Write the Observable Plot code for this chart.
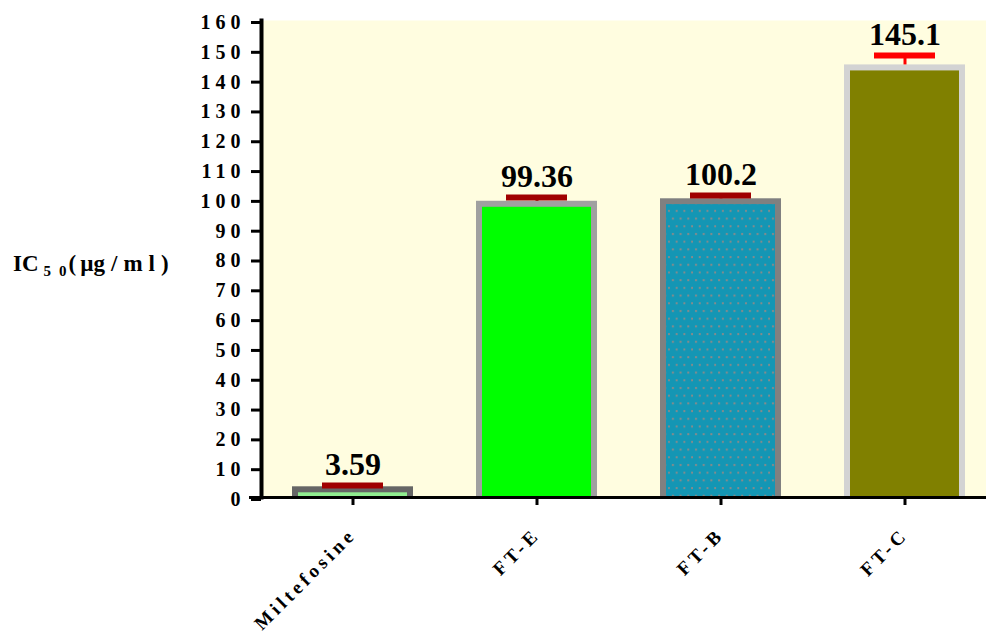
<!DOCTYPE html>
<html><head><meta charset="utf-8">
<script src="https://cdn.jsdelivr.net/npm/d3@7"></script>
<script src="https://cdn.jsdelivr.net/npm/@observablehq/plot@0.6"></script>
<style>
body{margin:0;background:#fff;}
#chart svg{font-family:"Liberation Serif","Times New Roman",serif;}
#chart g[aria-label="y-axis tick label"] text{letter-spacing:5px;}
#chart g[aria-label="x-axis tick label"] text{letter-spacing:4px;}
</style></head><body><div id="chart"></div>
<script>
const categories = ["Miltefosine", "FT-E", "FT-B", "FT-C"];
const tickLabels = ["Miltefosine", "FT-E", "FT-B", "FT-C"];
const values = [3.59, 99.36, 100.2, 145.1];
const errors = [0.45, 1.3, 1.1, 3.2];
const valueLabels = ["3.59", "99.36", "100.2", "145.1"];
const fillColors = ["#90ee90", "#00ff00", "#1496b4", "#808000"];
const strokeColors = ["#666666", "#a0a0a0", "#808080", "#d3d3d3"];
const errorColors = ["#a00000", "#a00000", "#a00000", "#ff0000"];
const patterned = [false, false, true, false];
const yTicks = [0, 10, 20, 30, 40, 50, 60, 70, 80, 90, 100, 110, 120, 130, 140, 150, 160];

const data = categories.map((c, i) => ({
  cat: c, value: values[i], err: errors[i], label: valueLabels[i],
  fill: fillColors[i], stroke: strokeColors[i], ecolor: errorColors[i], pat: patterned[i]
}));

const defsMark = () => {
  const defs = d3.create("svg:defs");
  const p = defs.append("pattern").attr("id", "dots").attr("patternUnits", "userSpaceOnUse")
    .attr("width", 7.7).attr("height", 15.4);
  p.append("rect").attr("width", 7.7).attr("height", 15.4).attr("fill", "#1496b4");
  p.append("rect").attr("x", 2).attr("y", 2).attr("width", 2).attr("height", 2).attr("fill", "#8a8a8a");
  p.append("rect").attr("x", 5.85).attr("y", 9.7).attr("width", 2).attr("height", 2).attr("fill", "#8a8a8a");
  return defs.node();
};

const chart = Plot.plot({
  width: 986, height: 633,
  marginLeft: 261, marginRight: 0, marginTop: 20, marginBottom: 136,
  style: {fontFamily: "Liberation Serif, Times New Roman, serif", background: "white", overflow: "visible", color: "black"},
  x: {domain: categories, paddingInner: 0.34, paddingOuter: 0.132, align: 0.6, label: null},
  y: {domain: [0, 160], label: null},
  marks: [
    defsMark,
    Plot.frame({fill: "#fffde0", stroke: null}),
    Plot.barY(data, {x: "cat", y: "value", fill: d => d.fill, stroke: d => d.stroke, strokeWidth: 6, insetTop: 3, insetLeft: 3, insetRight: 3, insetBottom: -4, clip: true}),
    Plot.barY(data.filter(d => d.pat), {x: "cat", y: "value", fill: "url(#dots)", insetLeft: 6, insetRight: 6, insetTop: 6}),
    Plot.ruleX(data, {x: "cat", y1: "value", y2: d => d.value + d.err, stroke: d => d.ecolor, strokeWidth: 3}),
    Plot.tickY(data, {x: "cat", y: d => d.value + d.err, stroke: d => d.ecolor, strokeWidth: 6, insetLeft: 30, insetRight: 30}),
    Plot.text(data, {x: "cat", y: d => d.value + d.err, text: "label", dy: -10, lineAnchor: "bottom", fontSize: 32, fontWeight: "bold", fill: "black"}),
    Plot.ruleY([0], {stroke: "black", strokeWidth: 3, insetLeft: -12}),
    Plot.frame({anchor: "left", stroke: "black", strokeWidth: 4}),
    Plot.axisY({ticks: yTicks, tickSize: 10, strokeWidth: 3, tickPadding: 6, fontSize: 20, fontWeight: "bold", label: null, tickFormat: d => String(d), dy: 2}),
    Plot.axisX({tickSize: 8, strokeWidth: 3, tickRotate: -45, tickPadding: 26, fontSize: 19, fontWeight: "bold", label: null, tickFormat: d => tickLabels[categories.indexOf(d)]})
  ]
});

document.getElementById("chart").appendChild(chart);

const svg = d3.select(chart);
const yPos = chart.scale("y").apply(78);
const t = svg.append("text").attr("x", 13).attr("y", yPos + 7)
  .attr("text-anchor", "start")
  .attr("font-weight", "bold").attr("font-size", 23).attr("fill", "black")
  .attr("font-family", "Liberation Serif, Times New Roman, serif");
t.append("tspan").text("IC");
t.append("tspan").attr("font-size", 15).attr("dy", 5).attr("dx", 5).text("5");
t.append("tspan").attr("font-size", 15).attr("dx", 8).text("0");
t.append("tspan").attr("dy", -5).attr("dx", 2).text("(");
t.append("tspan").attr("dx", 4).text("µ");
t.append("tspan").attr("letter-spacing", "6px").text("g/ml)");
</script></body></html>
